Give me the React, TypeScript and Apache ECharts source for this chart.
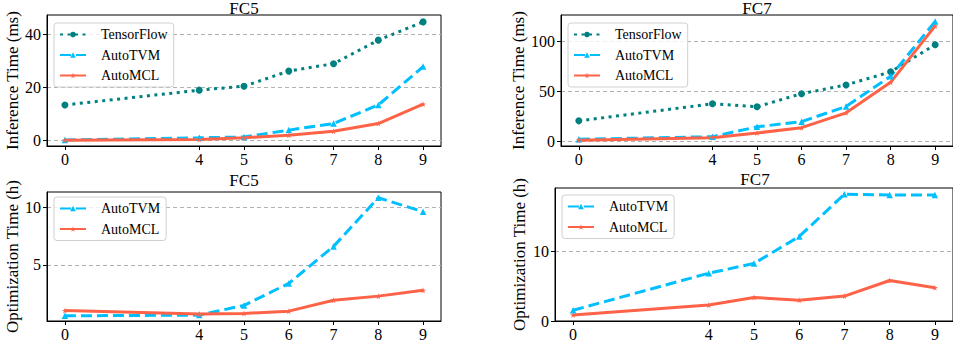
import React, { useEffect, useRef } from 'react';
import * as echarts from 'echarts';

const xPositions = [1, 4, 5, 6, 7, 8, 9];
const xTickLabels = ['0', '4', '5', '6', '7', '8', '9'];

const fc5InfTensorFlow = [13.3, 18.9, 20.4, 26.1, 28.9, 37.8, 44.7];
const fc5InfAutoTVM = [0.1, 0.9, 1.2, 3.8, 6.3, 13.3, 27.8];
const fc5InfAutoMCL = [0.0, 0.3, 0.9, 1.9, 3.4, 6.3, 13.6];

const fc7InfTensorFlow = [20.8, 37.8, 34.8, 47.9, 56.6, 69.7, 96.8];
const fc7InfAutoTVM = [2.4, 5.0, 14.8, 20.0, 35.1, 65.3, 120.0];
const fc7InfAutoMCL = [1.4, 4.0, 8.7, 14.0, 28.8, 59.2, 115.5];

const fc5OptAutoTVM = [0.6, 0.66, 1.5, 3.4, 6.6, 10.8, 9.6];
const fc5OptAutoMCL = [1.05, 0.75, 0.8, 1.0, 1.95, 2.3, 2.8];

const fc7OptAutoTVM = [1.55, 6.9, 8.3, 12.2, 18.3, 18.2, 18.2];
const fc7OptAutoMCL = [0.87, 2.3, 3.4, 3.0, 3.6, 5.85, 4.8];

const titles = ['FC5', 'FC7', 'FC5', 'FC7'];
const yNames = ['Inference Time (ms)', 'Inference Time (ms)', 'Optimization Time (h)', 'Optimization Time (h)'];
const yTicks = [[0, 20, 40], [0, 50, 100], [5, 10], [0, 10]];

const FONT = '"Liberation Serif", "Times New Roman", serif';
const TEAL = '#008080';
const SKY = '#00BFFF';
const TOMATO = '#FF6347';
const STAR = 'path://M50,0 L61,35 L98,35 L68,57 L79,91 L50,70 L21,91 L32,57 L2,35 L39,35 Z';

function zip(ys: number[]) {
  return xPositions.map((x, i) => [x, ys[i]]);
}

export default function App() {
  const ref = useRef<HTMLDivElement>(null);
  useEffect(() => {
    if (!ref.current) return;
    const chart = echarts.init(ref.current, undefined, { renderer: 'svg' });

    const grids = [
      { left: 47, top: 15, width: 394, height: 131 },
      { left: 561, top: 15, width: 392, height: 131 },
      { left: 47, top: 192, width: 394, height: 129 },
      { left: 555, top: 188, width: 398, height: 133 },
    ];
    const yRanges = [[-2.2, 47.3], [-4.3, 126.4], [0.15, 11.3], [0, 19.2]];
    const nameGaps = [25, 34, 25, 27];

    const xAxes = grids.map((_, i) => ({
      type: 'value',
      gridIndex: i,
      min: 0.6,
      max: 9.4,
      axisLine: { show: true, onZero: false, lineStyle: { color: '#000', width: 1 } },
      axisTick: { show: true, length: 4, customValues: xPositions, lineStyle: { color: '#000' } },
      axisLabel: {
        customValues: xPositions,
        formatter: (v: number) => xTickLabels[xPositions.indexOf(v)] ?? '',
        fontFamily: FONT,
        fontSize: 16,
        color: '#000',
        margin: 5,
      },
      splitLine: { show: false },
    }));

    const yAxes = grids.map((_, i) => ({
      type: 'value',
      gridIndex: i,
      min: yRanges[i][0],
      max: yRanges[i][1],
      name: yNames[i],
      nameLocation: 'middle',
      nameGap: nameGaps[i],
      nameTextStyle: { fontFamily: FONT, fontSize: 17, color: '#000' },
      axisLine: { show: true, onZero: false, lineStyle: { color: '#000', width: 1 } },
      axisTick: { show: true, length: 4, customValues: yTicks[i], lineStyle: { color: '#000' } },
      axisLabel: {
        customValues: yTicks[i],
        fontFamily: FONT,
        fontSize: 16,
        color: '#000',
        margin: 6,
      },
      splitLine: { show: true, lineStyle: { type: [4, 3], color: '#b0b0b0', width: 1 } },
    }));

    const tf = (data: number[], idx: number) => ({
      name: 'TensorFlow',
      type: 'line',
      xAxisIndex: idx,
      yAxisIndex: idx,
      data: zip(data),
      symbol: 'circle',
      symbolSize: 7,
      color: TEAL,
      itemStyle: { color: TEAL },
      lineStyle: { color: TEAL, width: 3, type: [3, 4.5] },
    });
    const tvm = (data: number[], idx: number) => ({
      name: 'AutoTVM',
      type: 'line',
      xAxisIndex: idx,
      yAxisIndex: idx,
      data: zip(data),
      symbol: 'triangle',
      symbolSize: 6.5,
      color: SKY,
      itemStyle: { color: SKY },
      lineStyle: { color: SKY, width: 3, type: [11, 5] },
    });
    const mcl = (data: number[], idx: number) => ({
      name: 'AutoMCL',
      type: 'line',
      xAxisIndex: idx,
      yAxisIndex: idx,
      data: zip(data),
      symbol: STAR,
      symbolSize: 6,
      color: TOMATO,
      itemStyle: { color: TOMATO },
      lineStyle: { color: TOMATO, width: 3 },
    });

    const legendBase = {
      orient: 'vertical',
      itemWidth: 26,
      itemHeight: 7,
      itemGap: 6.5,
      padding: [4.5, 6, 4.5, 5],
      borderColor: '#d0d0d0',
      borderWidth: 1,
      borderRadius: 3,
      backgroundColor: 'rgba(255,255,255,0.8)',
      textStyle: { fontFamily: FONT, fontSize: 14, color: '#000', padding: [0, 0, 0, 10], lineHeight: 14 },
      selectedMode: false,
    };

    const titleCenters = [
      [244, 0],
      [757, 0],
      [244, 172],
      [755, 171],
    ];

    chart.setOption({
      animation: false,
      backgroundColor: '#fff',
      grid: grids.map((g) => ({ ...g, show: true, borderColor: '#000', borderWidth: 1, containLabel: false })),
      xAxis: xAxes,
      yAxis: yAxes,
      legend: [
        { ...legendBase, data: ['TensorFlow', 'AutoTVM', 'AutoMCL'], left: 54, top: 23 },
        { ...legendBase, data: ['TensorFlow', 'AutoTVM', 'AutoMCL'], left: 568, top: 23 },
        { ...legendBase, data: ['AutoTVM', 'AutoMCL'], left: 54, top: 197 },
        { ...legendBase, data: ['AutoTVM', 'AutoMCL'], left: 562, top: 195 },
      ],
      graphic: titles.map((t, i) => ({
        type: 'text',
        x: titleCenters[i][0],
        y: titleCenters[i][1],
        style: {
          text: t,
          font: `17px ${FONT}`,
          fill: '#000',
          textAlign: 'center',
          textVerticalAlign: 'top',
        },
      })),
      series: [
        tf(fc5InfTensorFlow, 0),
        tvm(fc5InfAutoTVM, 0),
        mcl(fc5InfAutoMCL, 0),
        tf(fc7InfTensorFlow, 1),
        tvm(fc7InfAutoTVM, 1),
        mcl(fc7InfAutoMCL, 1),
        tvm(fc5OptAutoTVM, 2),
        mcl(fc5OptAutoMCL, 2),
        tvm(fc7OptAutoTVM, 3),
        mcl(fc7OptAutoMCL, 3),
      ],
    });
    return () => chart.dispose();
  }, []);

  return (
    <div
      ref={ref}
      style={{ position: 'absolute', left: 0, top: 0, width: 953, height: 345 }}
    />
  );
}
